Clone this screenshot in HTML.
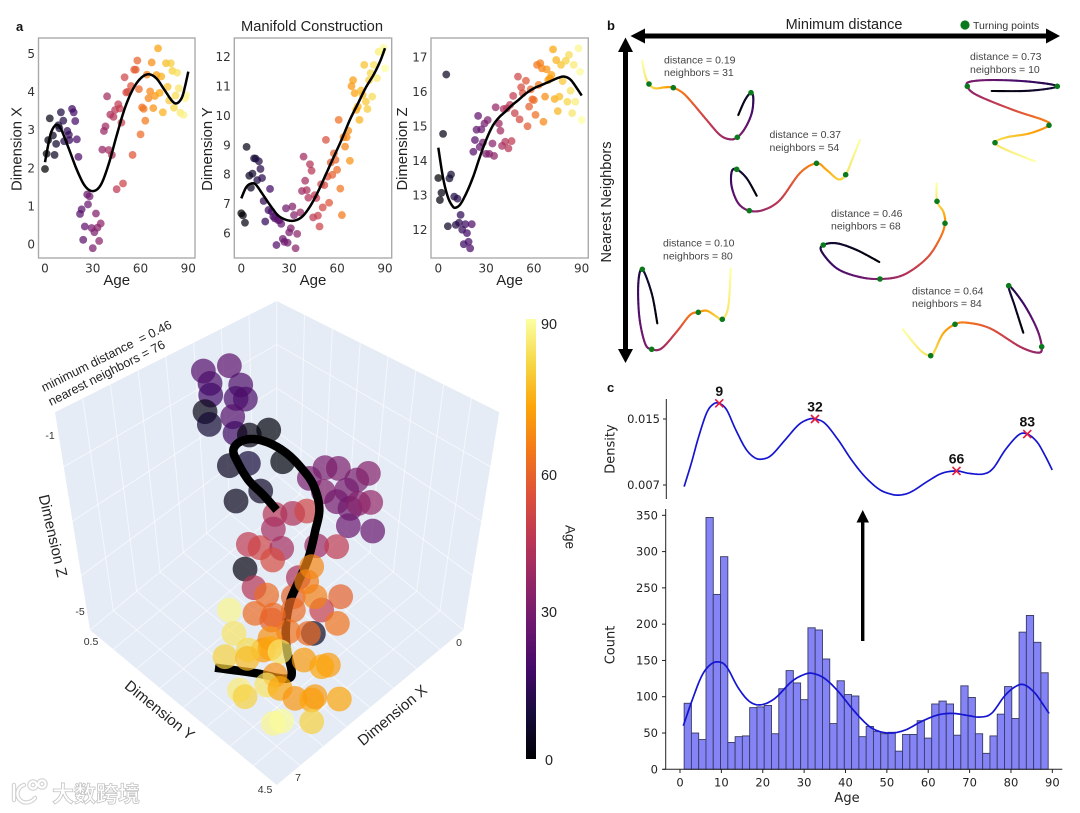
<!DOCTYPE html>
<html lang="en">
<head>
<meta charset="utf-8">
<title>Manifold Construction</title>
<style>
html,body{margin:0;padding:0;background:#fff;width:1080px;height:813px;overflow:hidden}
svg{display:block;font-family:"Liberation Sans",Arial,sans-serif;filter:blur(.35px)}
.dj{font-family:"DejaVu Sans",sans-serif}
.lib{font-family:"Liberation Sans",Arial,sans-serif}
</style>
</head>
<body>
<svg id="fig" xmlns="http://www.w3.org/2000/svg" width="1080" height="813" viewBox="0 0 1080 813">
  <defs>
    <linearGradient id="cbGrad" x1="0" y1="1" x2="0" y2="0">
      <stop offset="0" stop-color="#000004"/><stop offset=".1" stop-color="#160b39"/><stop offset=".2" stop-color="#420a68"/><stop offset=".3" stop-color="#6a176e"/><stop offset=".4" stop-color="#932667"/><stop offset=".5" stop-color="#bc3754"/><stop offset=".6" stop-color="#dd513a"/><stop offset=".7" stop-color="#f37819"/><stop offset=".8" stop-color="#fca50a"/><stop offset=".9" stop-color="#f6d746"/><stop offset="1" stop-color="#fcffa4"/>
    </linearGradient>
  </defs>
  <rect width="1080" height="813" fill="#fff"/>

  <text x="16" y="31" font-size="13" font-weight="bold" fill="#111">a</text>
  <text x="607" y="30" font-size="13" font-weight="bold" fill="#111">b</text>
  <text x="607" y="392" font-size="13" font-weight="bold" fill="#111">c</text>
  <text x="312" y="31" font-size="14.7" text-anchor="middle" fill="#222">Manifold Construction</text>

  <g id="panelA"></g>
  <g id="panel3d"></g>

  <text transform="translate(44,392) rotate(-26.6)" font-size="12.6" fill="#222" xml:space="preserve">minimum distance  = 0.46</text>
  <text transform="translate(51,406) rotate(-27)" font-size="12.6" fill="#222">nearest neighbors = 76</text>
  <text transform="translate(52,536) rotate(77)" font-size="15" text-anchor="middle" dominant-baseline="middle" fill="#222">Dimension Z</text>
  <text transform="translate(159,711) rotate(39)" font-size="15" text-anchor="middle" dominant-baseline="middle" fill="#222">Dimension Y</text>
  <text transform="translate(393,716) rotate(-40)" font-size="15" text-anchor="middle" dominant-baseline="middle" fill="#222">Dimension X</text>
  <g font-size="10.5" fill="#333" text-anchor="middle" dominant-baseline="middle">
    <text x="50" y="436">-1</text>
    <text x="80" y="612">-5</text>
    <text x="91" y="642">0.5</text>
    <text x="459" y="643">0</text>
    <text x="298" y="778">7</text>
    <text x="265" y="790">4.5</text>
  </g>

  <g id="colorbar">
    <rect x="526" y="319" width="10" height="440" fill="url(#cbGrad)"/>
    <g font-size="14.4" fill="#222">
      <text x="541" y="329">90</text>
      <text x="541" y="480">60</text>
      <text x="541" y="617">30</text>
      <text x="545" y="765">0</text>
    </g>
    <text transform="translate(569,537) rotate(90)" font-size="13.5" text-anchor="middle" dominant-baseline="middle" fill="#222">Age</text>
  </g>

  <g id="panelB">
    <g fill="#000">
      <rect x="640" y="33.5" width="410" height="5"/>
      <polygon points="630.5,36 645,28.5 645,43.5"/>
      <polygon points="1060,36 1046,28.5 1046,43.5"/>
    </g>
    <g fill="#000">
      <rect x="623" y="48" width="5" height="305"/>
      <polygon points="625.5,37.5 618,52 633,52"/>
      <polygon points="625.5,363 618,349 633,349"/>
    </g>
    <text x="844" y="29" font-size="14.5" text-anchor="middle" fill="#222">Minimum distance</text>
    <text transform="translate(607,202) rotate(-90)" font-size="14.5" text-anchor="middle" dominant-baseline="middle" fill="#222">Nearest Neighbors</text>
    <circle cx="965" cy="25" r="4.6" fill="#0b7a1c"/>
    <text x="973" y="29" font-size="10.5" fill="#333">Turning points</text>
    <g font-size="10.5" fill="#444">
      <text x="664" y="63.5">distance = 0.19</text>
      <text x="664" y="76">neighbors = 31</text>
      <text x="769.5" y="138">distance = 0.37</text>
      <text x="769.5" y="151">neighbors = 54</text>
      <text x="831" y="217">distance = 0.46</text>
      <text x="831" y="229.5">neighbors = 68</text>
      <text x="970" y="60">distance = 0.73</text>
      <text x="970" y="73">neighbors = 10</text>
      <text x="912" y="294.5">distance = 0.64</text>
      <text x="912" y="307">neighbors = 84</text>
      <text x="663" y="246.5">distance = 0.10</text>
      <text x="663" y="259.5">neighbors = 80</text>
    </g>
  </g>

  <g id="panelC" class="dj"></g>
  <g fill="#000">
    <rect x="861" y="520" width="3.4" height="121"/>
    <polygon points="862.7,510 856.5,522.5 869,522.5"/>
  </g>

  <g>
    <g fill="none" stroke="#d2d2d2" stroke-width="4.4" stroke-linecap="round">
      <path d="M14 785v15M24 785a9 9 0 0 0 -1 17a11 11 0 0 0 12 -4"/>
      <circle cx="33" cy="785" r="3.6"/>
      <circle cx="42" cy="784" r="3.6"/>
    </g>
    <g fill="none" stroke="#fff" stroke-width="2.2" stroke-linecap="round">
      <path d="M14 785v15M24 785a9 9 0 0 0 -1 17a11 11 0 0 0 12 -4"/>
      <circle cx="33" cy="785" r="3.6"/>
      <circle cx="42" cy="784" r="3.6"/>
    </g>
    <text x="52" y="802" font-size="22" font-weight="bold" fill="#fff" stroke="#c4c4c4" stroke-width="0.8" style='font-family:"Liberation Sans","Noto Sans CJK SC",sans-serif'>大数跨境</text>
  </g>
</svg>

<script>
// ---------- Panel a: Dimension X vs Age ----------
const dimXAge = [0,1,2,3,5,6,7,8.4,9,10,11.5,12,14,15,15.3,17,18,19,20,21,22,23,25,24,26.5,27,28,29.3,30,31,32,33,34,35,36,37,38,39,40,41,42,43,44,45,46,47,48,49,50,51,52,54,55,56,57,58,59,60,61,62,63,64,65,66,67,68,69,70,71,72,73,74,76,77,78,79,80,81,83,84,82,85,87,88,88.5];
const dimXValue = [1.97,2.37,2.73,3.30,2.85,2.34,2.63,3.12,3.04,3.46,3.24,2.70,2.97,2.87,2.73,3.55,3.46,3.23,2.75,2.29,.79,.91,.46,.11,1.30,1.04,1.25,.42,-.11,.31,.80,.43,.08,.54,2.48,2.97,3.09,3.88,2.47,3.40,2.34,3.34,3.52,1.44,3.67,3.56,3.19,1.59,4.38,3.98,4.0,4.15,2.34,4.58,4.58,4.82,4.07,2.88,3.59,3.55,3.24,4.45,3.83,4.01,4.77,3.57,3.89,4.44,5.14,3.97,4.4,3.46,4.75,4.13,3.77,4.75,4.55,3.58,4.5,4.09,3.9,3.45,3.39,3.83,3.91];
const dimXCurveAge = [0,2,4,7,10,15,20,25,30,35,40,45,50,55,60,65,70,75,80,83,86,88,90];
const dimXCurveValue = [2.15,2.6,2.95,3.13,3.02,2.5,1.95,1.53,1.39,1.55,2.1,2.85,3.55,4.05,4.35,4.46,4.35,4.05,3.75,3.7,3.85,4.15,4.53];
const dimXTicks = [0,1,2,3,4,5];

// ---------- Panel a: Dimension Y vs Age ----------
const dimYAge = [0,1,2.3,3.3,5,6,7,8,9,10,11,12,13,14,15,17,18,19,20,21,22,23,24,25,26,27,28,29,30,31,32,33,34,35,37,38,39,40,41,42,43,44,45,46,47,48,49,50,51,52,53,54,55,56,57,58,59,60,61,62,63,64,65,66,67,68,69,70,71,72,73,74,75,76,77,78,79,80,81,82,83,85,86,88,89,90];
const dimYValue = [6.67,6.6,6.35,8.93,7.95,7.54,8.02,8.54,8.53,7.8,8.44,8.18,7.87,7.09,6.39,6.78,7.5,6.73,6.56,6.5,5.59,6.44,6.44,6.31,5.8,5.7,6.84,5.67,6.02,6.16,6.9,6.61,5.48,5.97,6.7,7.43,8.6,7.78,7.46,7.2,8.34,8.12,6.53,7.29,7.19,6.59,6.22,7.66,6.87,7.63,9.17,7.92,7.03,8.4,7.98,8.71,8.49,8.15,9.85,7.51,6.61,9.26,8.94,9.26,9.48,8.46,11.0,11.2,10.76,10.19,10.3,9.85,10.85,10.7,11.72,10.47,10.22,11.2,11.44,10.64,11.72,11.27,12.17,12.17,12.3,11.6];
const dimYCurveAge = [0,3,6,9,13,18,23,28,33,38,43,48,53,58,63,68,73,78,83,87,90];
const dimYCurveValue = [7.18,7.55,7.68,7.65,7.35,6.95,6.6,6.45,6.42,6.55,6.9,7.4,8.0,8.6,9.2,9.85,10.4,10.95,11.4,11.85,12.29];
const dimYTicks = [6,7,8,9,10,11,12];

// ---------- Panel a: Dimension Z vs Age ----------
const dimZAge = [0,1,2,3,5,6,7,8,10,11,12,13,14,15,16,17,18,19,20,21,22,23,24,25,26,27,28,29,30,31,32,34,35,36,38,39,40,41,42,43,44,45,46,47,48,50,51,52,53,55,56,57,58,59,60,61,62,63,64,65,66,67,68,69,70,71,72,73,74,75,76,77,78,80,81,82,83,84,85,86,88,89,90];
const dimZValue = [13.5,12.86,13.07,14.78,16.5,12.1,13.49,13.6,12.96,12.14,12.9,12.2,12.43,12.0,11.58,12.16,11.9,11.65,11.46,12.16,14.26,14.6,14.9,15.3,14.4,14.91,14.53,15.08,14.2,15.18,14.2,14.5,14.14,15.55,15.08,14.87,14.43,15.5,14.55,15.52,14.36,15.62,14.57,15.88,15.38,16.44,15.2,16.13,15.96,16.32,15.0,15.57,16.07,15.78,15.76,15.33,16.78,16.2,16.83,16.68,15.13,15.86,16.65,16.34,16.39,16.49,17.23,15.79,16.92,15.44,15.86,16.78,16.31,16.9,15.71,17.07,16.03,15.38,16.78,15.71,17.26,16.58,15.18];
const dimZCurveAge = [0,3,6,9,11,14,18,22,26,30,34,38,42,46,50,55,60,65,70,75,79,83,87,90];
const dimZCurveValue = [14.38,13.5,12.95,12.68,12.64,12.75,13.1,13.55,14.1,14.6,15.0,15.25,15.42,15.6,15.75,15.95,16.1,16.2,16.3,16.4,16.44,16.35,16.1,15.89];
const dimZTicks = [12,13,14,15,16,17];
const ageTicks = [0,30,60,90];

// ---------- 3D scatter (coordinates in the projected view plane) ----------
const viewU = [-22,-14.2,-20,-10.8,-19.8,-12.2,-9.4,-13.2,-21.5,-20.2,-12.5,-8.2,-2.4,-14.2,-8.5,1.8,-4.8,-12.2,9.8,14.5,18.5,24,27.5,21,14,18,22,24.5,28.2,21.5,28.8,-.5,4.8,9,-1,-8.5,-5,1.5,-1.2,12,18,-9.5,6.5,-6.8,-3,19.2,5,13.5,9,-1,-4,10.5,11.5,-6.5,-1.5,5,18.2,11,9.5,3.5,-2,-14.2,-12.8,-15.5,-8.5,-8.8,-2,1,8.2,15.5,13.5,-.5,-11.2,-9.5,-3,1,5.5,10.5,11.5,18.8,-1,1.5,10.5];
const viewV = [124.2,125.8,120.5,120,117,116,115.8,110.5,112,108.2,105.5,105,106.5,95.8,96.5,97,88.2,85.2,92,95.2,95,91.5,93.5,88.5,88,85,83,84.5,84.8,77.8,76.2,81.2,81.5,82.2,76.8,72.2,71.2,71,67.5,71.8,71.5,64.8,62.2,59.2,57,56.5,56.5,52.5,61,51,40.5,65.5,56.5,51.5,49.5,52.5,48.5,45.5,45.5,46,44,52.5,45.5,38.5,40.5,38,41,40,37.5,36,35.5,33,28.5,26.5,30,29,26,25.5,26.5,25.8,18.5,19.2,19];
const viewAge = [22,24,20,21,18,19,20,22,3,8,17,2,1,5,9,1,6,4,30,30,31,30,33,29,32,29,28,33,36,27,26,44,42,50,40,46,50,40,52,38,46,2,42,44,60,58,58,48,64,60,70,66,65,60,58,60,62,5,60,62,68,88,84,80,82,76,72,84,70,70,72,68,86,80,84,72,69,72,70,72,88,89,80];
const marksBehindCurve = 48;
const viewCurveU = [0,-4,-8.5,-11.8,-13,-11,-7,-2,3,7.5,11,12.8,11.5,9.5,6.5,4,2.8,3,4.5,3.5,0,-6,-18.5];
const viewCurveV = [82.5,87,91.5,97,100.5,103,103.8,102.5,99.5,95,90,83,76,68,61,55,48,41,34,32,32.2,33.5,35.2];

// ---------- Panel b: manifolds ----------
const manifoldCurve1 = [[738.3,115],[745,100],[751,92.7],[753.3,98.3],[751.7,113.3],[745,128.3],[737.3,137.3],[730,139.3],[720,135],[706.7,120],[693.3,104],[683.3,93.3],[673.3,87.7],[665,87.3],[655,88.3],[649,84],[645,75],[642.3,60.7]];
const turning1 = [[751,92.7],[737.3,137.3],[673.3,87.7],[649,84]];
const manifoldCurve2 = [[756.7,195.7],[746.7,178.3],[736.7,169.3],[731.7,171.7],[731.7,186.7],[738.3,203.3],[749.3,210.7],[763.3,210],[780,200],[800,173],[816.5,163.3],[826.7,170],[838.3,179.3],[845.7,174.7],[853.3,156.7],[860,140]];
const turning2 = [[736.7,169.3],[749.3,210.7],[816.5,163.3],[845.7,174.7]];
const manifoldCurve3 = [[879.3,262],[856.7,250],[836.7,243.3],[823.3,245],[821.7,251.7],[836.7,268.3],[858.3,276.7],[880,279],[903.3,275],[926.7,258.3],[940,238.3],[945,223.3],[943.3,211.7],[937,201.3],[936.7,183.3]];
const turning3 = [[823.3,245],[880,279],[945,223.3],[937,201.3]];
const manifoldCurve4 = [[991.7,91],[1030,90.7],[1057.3,86.3],[1030,81.7],[993.3,80],[970,81.7],[967.3,86.3],[976.7,95],[1013.3,110],[1043.3,120],[1049,125.3],[1030,133.3],[1006.7,137.3],[995,142.7],[1006.7,150],[1035,161.3]];
const turning4 = [[1057.3,86.3],[967.3,86.3],[1049,125.3],[995,142.7]];
const manifoldCurve5 = [[1023.3,332.7],[1015,306.7],[1008.7,285.7],[1023.3,303.3],[1036.7,328.3],[1041.7,346.7],[1038.3,352.7],[1020,346.7],[990,328.3],[966.7,322.7],[955,324.3],[943.3,333.3],[935,350],[930.7,355.7],[920,350],[902.7,329.3]];
const turning5 = [[1008.7,285.7],[1041.7,346.7],[955,324.3],[930.7,355.7]];
const manifoldCurve6 = [[657.3,323.3],[651.7,293.3],[642.3,269.3],[638.3,283.3],[639.3,316.7],[645,343.3],[651.7,349.3],[661.7,348.3],[676.7,331.7],[690,315],[698.3,312.3],[706.7,310.7],[716.7,316.7],[722.3,319.3],[728.3,306.7],[730.7,268.7]];
const turning6 = [[642.3,269.3],[651.7,349.3],[698.3,312.3],[722.3,319.3]];
const turningAges = [9,32,66,83];

// ---------- Panel c: density ----------
const densityAge = [.56,2.35,3.94,5.93,7.52,9,10.8,12.8,15.3,17.5,19.45,21.6,24.8,28,30.4,32,34.4,37.6,40.8,44,47.3,50.1,52.5,55.2,59.2,62.5,66,68.9,72.4,74.8,77.7,80.9,83,85.3,87.2,89];
const densityValue = [.0068,.00975,.01266,.01569,.01678,.0169,.01609,.01387,.01144,.01031,.01015,.01064,.01245,.01427,.01496,.015,.01447,.01245,.01003,.00801,.00652,.00591,.00579,.00619,.00749,.00842,.0087,.00842,.00833,.00902,.01124,.01306,.01318,.01225,.01064,.00882];
const peakAges = [9,32,66,83];
const peakValues = [.0169,.015,.0087,.01318];
const peakLabels = ['9','32','66','83'];
const densityTicks = [.015,.007];

// ---------- Panel c: histogram ----------
const histCounts = [91,50,41,347,241,293,37,45,46,85,86,88,49,111,136,119,96,195,192,152,63,122,103,101,45,59,52,49,51,25,48,48,67,43,90,94,90,47,115,99,49,22,46,76,114,70,189,212,175,133];
const histStartAge = 1;
const histBinAges = 1.76;
const kdeAge = [.8,2.8,5.2,7.3,9.3,11.3,14.1,16.9,19.7,23,27,30.2,32.2,35,38.3,42.3,46.3,50.4,54.4,58.4,62.4,66,69.7,72.5,75.3,78.6,81.4,83.4,85.8,87.8,89.2];
const kdeCount = [60,93,128,144,148,141,112,93,89,98,121,131,132,125,107,79,57,50,54,66,75,77,74,72,77,102,115,116,105,89,77];
const histXTicks = [0,10,20,30,40,50,60,70,80,90];
const histYTicks = [0,50,100,150,200,250,300,350];

// ---------- helpers ----------
const NS = 'http://www.w3.org/2000/svg';
const infernoStops = ['#000004','#160b39','#420a68','#6a176e','#932667','#bc3754','#dd513a','#f37819','#fca50a','#f6d746','#fcffa4'];
function hexRgb(h){return [1,3,5].map(i=>parseInt(h.substr(i,2),16));}
function inferno(t){
  t=Math.max(0,Math.min(1,t));
  const p=t*(infernoStops.length-1),i=Math.min(Math.floor(p),infernoStops.length-2),f=p-i;
  const a=hexRgb(infernoStops[i]),b=hexRgb(infernoStops[i+1]);
  return 'rgb('+a.map((v,k)=>Math.round(v+(b[k]-v)*f)).join(',')+')';
}
function mk(tag,attrs,parent,txt){
  const el=document.createElementNS(NS,tag);
  for(const k in attrs)el.setAttribute(k,attrs[k]);
  if(txt!==undefined)el.textContent=txt;
  parent.appendChild(el);
  return el;
}
function sampleSpline(pts,n){
  const out=[];
  for(let i=0;i<pts.length-1;i++){
    const p0=pts[Math.max(i-1,0)],p1=pts[i],p2=pts[i+1],p3=pts[Math.min(i+2,pts.length-1)];
    for(let j=0;j<n;j++){
      const t=j/n,t2=t*t,t3=t2*t;
      out.push([
        .5*(2*p1[0]+(p2[0]-p0[0])*t+(2*p0[0]-5*p1[0]+4*p2[0]-p3[0])*t2+(3*p1[0]-p0[0]-3*p2[0]+p3[0])*t3),
        .5*(2*p1[1]+(p2[1]-p0[1])*t+(2*p0[1]-5*p1[1]+4*p2[1]-p3[1])*t2+(3*p1[1]-p0[1]-3*p2[1]+p3[1])*t3)
      ]);
    }
  }
  out.push(pts[pts.length-1]);
  return out;
}
function pathOf(pts){return 'M'+pts.map(p=>p[0].toFixed(2)+' '+p[1].toFixed(2)).join('L');}

// ---------- draw panel a ----------
const panelA=document.getElementById('panelA');
function drawScatterPanel(cfg){
  const g=mk('g',{},panelA);
  
  
  const sx=a=>cfg.x0+(cfg.x90-cfg.x0)*a/90;
  const sy=v=>cfg.yA+(cfg.yB-cfg.yA)*(v-cfg.vA)/(cfg.vB-cfg.vA);
  const frame=mk('rect',{x:cfg.fx0,y:38,width:cfg.fx1-cfg.fx0,height:220,fill:'#fff',stroke:'#aaa','stroke-width':1.4},g);
  
  
  cfg.age.forEach((a,i)=>{
    const c=mk('circle',{cx:sx(a),cy:sy(cfg.val[i]),r:3.9,fill:inferno(a/90),'fill-opacity':.72},g);
    
    
  });
  const curvePts=sampleSpline(cfg.cAge.map((a,i)=>[sx(a),sy(cfg.cVal[i])]),10);
  const line=mk('path',{d:pathOf(curvePts),fill:'none',stroke:'#000','stroke-width':2.5,'stroke-linejoin':'round'},g);
  
  
  ageTicks.forEach(t=>{
    const lb=mk('text',{x:sx(t),y:272.5,'font-size':12,'text-anchor':'middle',fill:'#333',class:'dj'},g,String(t));
    
    
  });
  cfg.ticks.forEach(t=>{
    const lb=mk('text',{x:cfg.fx0-3.5,y:sy(t)+4.4,'font-size':12,'text-anchor':'end',fill:'#333',class:'dj'},g,String(t));
    
    
  });
  const xt=mk('text',{x:(cfg.fx0+cfg.fx1)/2,y:285,'font-size':15,'text-anchor':'middle',fill:'#222'},g,'Age');
  
  
  const yt=mk('text',{transform:'translate('+cfg.titleX+',149) rotate(-90)','font-size':14.8,'text-anchor':'middle','dominant-baseline':'middle',fill:'#222'},g,cfg.title);
  
  
}
drawScatterPanel({name:'dimension-x',title:'Dimension X',age:dimXAge,val:dimXValue,cAge:dimXCurveAge,cVal:dimXCurveValue,ticks:dimXTicks,fx0:38.5,fx1:195,x0:45,x90:188.3,yA:244,yB:53.7,vA:0,vB:5,titleX:17.5});
drawScatterPanel({name:'dimension-y',title:'Dimension Y',age:dimYAge,val:dimYValue,cAge:dimYCurveAge,cVal:dimYCurveValue,ticks:dimYTicks,fx0:234.3,fx1:391.7,x0:241.3,x90:385,yA:233,yB:56.7,vA:6,vB:12,titleX:208});
drawScatterPanel({name:'dimension-z',title:'Dimension Z',age:dimZAge,val:dimZValue,cAge:dimZCurveAge,cVal:dimZCurveValue,ticks:dimZTicks,fx0:431,fx1:588.3,x0:438.3,x90:581.7,yA:229.7,yB:57.3,vA:12,vB:17,titleX:403});

// ---------- draw 3D ----------
const p3=document.getElementById('panel3d');
const vx=u=>276.7+u*3.333;
const vy=v=>785-v*3.333;
const corner={A:[55,412.3],B:[276.7,301],C:[276.7,475],D:[90,630],E:[499.3,412.3],F:[463.3,630],G:[276.7,785]};
const hex=mk('polygon',{points:[corner.B,corner.E,corner.F,corner.G,corner.D,corner.A].map(p=>p.join(',')).join(' '),fill:'#e5ecf6'},p3);


function lerp(p,q,t){return [p[0]+(q[0]-p[0])*t,p[1]+(q[1]-p[1])*t];}
const gridGroup=mk('g',{stroke:'#fff','stroke-width':1,'stroke-opacity':.6},p3);


function gridLines(a,b,c,d,n){
  for(let i=1;i<n;i++){
    const s=lerp(a,b,i/n),e=lerp(d,c,i/n);
    mk('line',{x1:s[0],y1:s[1],x2:e[0],y2:e[1]},gridGroup);
  }
}
gridLines(corner.A,corner.B,corner.C,corner.D,8);
gridLines(corner.A,corner.D,corner.C,corner.B,4);
gridLines(corner.E,corner.B,corner.C,corner.F,8);
gridLines(corner.E,corner.F,corner.C,corner.B,4);
gridLines(corner.D,corner.G,corner.F,corner.C,8);
gridLines(corner.D,corner.C,corner.F,corner.G,8);
mk('line',{x1:corner.C[0],y1:corner.C[1],x2:corner.B[0],y2:corner.B[1]},gridGroup);
mk('line',{x1:corner.C[0],y1:corner.C[1],x2:corner.D[0],y2:corner.D[1]},gridGroup);
mk('line',{x1:corner.C[0],y1:corner.C[1],x2:corner.F[0],y2:corner.F[1]},gridGroup);
function mark3d(i){
  const c=mk('circle',{cx:vx(viewU[i]),cy:vy(viewV[i]),r:12.4,fill:inferno(viewAge[i]/90),'fill-opacity':.7},p3);
  
  
}
for(let i=0;i<Math.min(marksBehindCurve,viewU.length);i++)mark3d(i);
const traj3d=mk('path',{d:pathOf(sampleSpline(viewCurveU.map((u,i)=>[vx(u),vy(viewCurveV[i])]),10)),fill:'none',stroke:'#000','stroke-width':8.5,'stroke-linejoin':'round'},p3);


for(let i=marksBehindCurve;i<viewU.length;i++)mark3d(i);

// ---------- draw panel b ----------
const panelB=document.getElementById('panelB');
function drawManifold(curve,turns,name){
  const g=mk('g',{fill:'none','stroke-width':2.1,'stroke-linecap':'round'},panelB);
  
  
  const pts=sampleSpline(curve,8);
  let total=0;const cum=[0];
  for(let i=1;i<pts.length;i++){total+=Math.hypot(pts[i][0]-pts[i-1][0],pts[i][1]-pts[i-1][1]);cum.push(total);}
  // colour follows age: each turning point sits at its density-peak age
  const knotLen=[0],knotT=[0];
  turns.forEach((t,k)=>{
    let best=0,bd=1e9;
    pts.forEach((p,i)=>{const d=Math.hypot(p[0]-t[0],p[1]-t[1]);if(d<bd){bd=d;best=i;}});
    knotLen.push(cum[best]);knotT.push(turningAges[k]/90);
  });
  knotLen.push(total);knotT.push(1);
  const colourAt=l=>{
    let k=0;
    while(k<knotLen.length-2&&l>knotLen[k+1])k++;
    const f=(l-knotLen[k])/Math.max(knotLen[k+1]-knotLen[k],1e-6);
    return knotT[k]+(knotT[k+1]-knotT[k])*f;
  };
  for(let i=1;i<pts.length;i++){
    mk('line',{x1:pts[i-1][0],y1:pts[i-1][1],x2:pts[i][0],y2:pts[i][1],stroke:inferno(colourAt(cum[i]))},g);
  }
  turns.forEach(t=>{
    const c=mk('circle',{cx:t[0],cy:t[1],r:2.8,fill:'#0b7a1c',stroke:'none'},g);
    
    
  });
}
drawManifold(manifoldCurve1,turning1,'manifold-curve-1');
drawManifold(manifoldCurve2,turning2,'manifold-curve-2');
drawManifold(manifoldCurve3,turning3,'manifold-curve-3');
drawManifold(manifoldCurve4,turning4,'manifold-curve-4');
drawManifold(manifoldCurve5,turning5,'manifold-curve-5');
drawManifold(manifoldCurve6,turning6,'manifold-curve-6');

// ---------- draw panel c ----------
const pc=document.getElementById('panelC');
const dX=a=>681.8+4.162*a;
const dY=v=>419+(0.015-v)*8250;
const cX=a=>680+4.137*a;
const cY=v=>769.3-v*0.7257;
const dSpine=mk('line',{x1:666.3,y1:399,x2:666.3,y2:499,stroke:'#222','stroke-width':1},pc);


densityTicks.forEach(t=>{
  const tk=mk('line',{x1:663,y1:dY(t),x2:666.3,y2:dY(t),stroke:'#222'},pc);
  
  
  const lb=mk('text',{x:660,y:dY(t)+4,'font-size':11.5,'text-anchor':'end',fill:'#222'},pc,t.toFixed(3));
  
  
});
const dTitle=mk('text',{transform:'translate(611,449) rotate(-90)','font-size':13,'text-anchor':'middle','dominant-baseline':'middle',fill:'#222'},pc,'Density');


const dLine=mk('path',{d:pathOf(sampleSpline(densityAge.map((a,i)=>[dX(a),dY(densityValue[i])]),8)),fill:'none',stroke:'#1515d0','stroke-width':1.7},pc);


peakAges.forEach((a,i)=>{
  const x=dX(a),y=dY(peakValues[i]);
  const m=mk('path',{d:'M'+(x-4)+' '+(y-4)+'L'+(x+4)+' '+(y+4)+'M'+(x-4)+' '+(y+4)+'L'+(x+4)+' '+(y-4),stroke:'#e8183a','stroke-width':1.6,fill:'none'},pc);
  
  
  const lb=mk('text',{x:x,y:y-7.5,'font-size':14,'font-weight':'bold','text-anchor':'middle',fill:'#111',class:'lib'},pc,peakLabels[i]);
  
  
});
histCounts.forEach((v,i)=>{
  const a=histStartAge+i*histBinAges;
  const b=mk('rect',{x:cX(a),y:cY(v),width:cX(a+histBinAges)-cX(a),height:cY(0)-cY(v),fill:'#8484f6',stroke:'#3a3a62','stroke-width':.9},pc);
  
  
});
const kLine=mk('path',{d:pathOf(sampleSpline(kdeAge.map((a,i)=>[cX(a),cY(kdeCount[i])]),8)),fill:'none',stroke:'#1515d0','stroke-width':1.7},pc);


const xAxis=mk('line',{x1:663.3,y1:769.3,x2:1062.3,y2:769.3,stroke:'#222','stroke-width':1},pc);


const yAxis=mk('line',{x1:665.7,y1:509,x2:665.7,y2:769.3,stroke:'#222','stroke-width':1},pc);


histXTicks.forEach(t=>{
  const tk=mk('line',{x1:cX(t),y1:769.3,x2:cX(t),y2:773,stroke:'#222'},pc);
  
  
  const lb=mk('text',{x:cX(t),y:786.5,'font-size':11.5,'text-anchor':'middle',fill:'#222'},pc,String(t));
  
  
});
histYTicks.forEach(t=>{
  const tk=mk('line',{x1:662,y1:cY(t),x2:665.7,y2:cY(t),stroke:'#222'},pc);
  
  
  const lb=mk('text',{x:658,y:cY(t)+4,'font-size':11.5,'text-anchor':'end',fill:'#222'},pc,String(t));
  
  
});
const hx=mk('text',{x:847,y:802,'font-size':13,'text-anchor':'middle',fill:'#222'},pc,'Age');


const hy=mk('text',{transform:'translate(611,645) rotate(-90)','font-size':13,'text-anchor':'middle','dominant-baseline':'middle',fill:'#222'},pc,'Count');


</script>
</body>
</html>
